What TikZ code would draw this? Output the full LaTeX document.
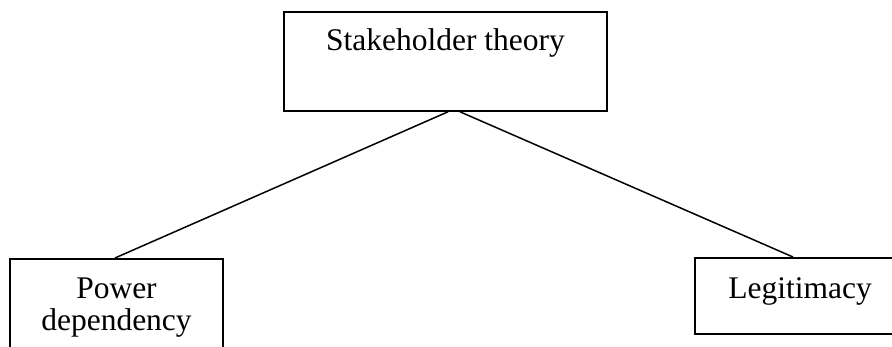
\documentclass[tikz,border=0pt]{standalone}
\usepackage{fontspec}
\setmainfont{Liberation Serif}
\begin{document}
\begin{tikzpicture}[x=1pt,y=-1pt,
  boxnode/.style={draw=black, line width=1.8pt, inner sep=0pt, align=center,
    font=\fontsize{31.5}{32}\selectfont},
  link/.style={draw=black, line width=1.5pt}]
\useasboundingbox (0,0) rectangle (892,347);
\clip (0,0) rectangle (892,347);
\fill[white] (0,0) rectangle (892,347);
\node[boxnode, anchor=north, minimum width=323pt, text height=39pt, text depth=60pt] (st) at (445.5,11) {Stakeholder theory};
\node[boxnode, anchor=north, minimum width=213pt, text height=72pt, text depth=50pt] (pd) at (116.5,258) {Power\\dependency};
\node[boxnode, anchor=north, minimum width=210pt, text height=41pt, text depth=35pt] (lg) at (800,257) {Legitimacy};
\coordinate (s1) at ([xshift=2.5pt]st.south);
\coordinate (s2) at ([xshift=14.5pt]st.south);
\coordinate (e1) at ([xshift=-1.5pt]pd.north);
\coordinate (e2) at ([xshift=-7pt]lg.north);
\draw[link] (s1) -- (e1);
\draw[link] (s2) -- (e2);
\end{tikzpicture}
\end{document}
